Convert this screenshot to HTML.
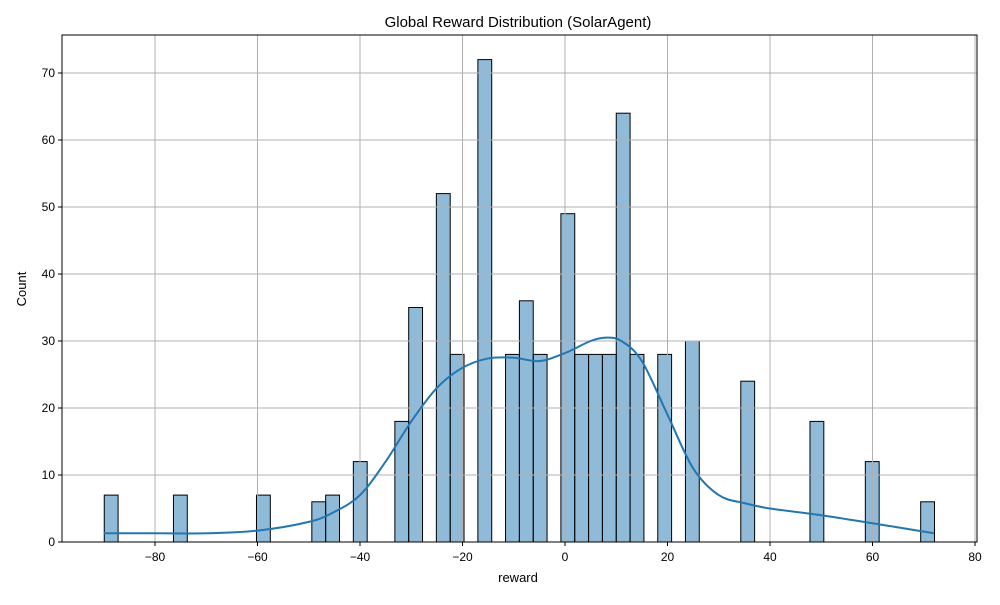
<!DOCTYPE html>
<html><head><meta charset="utf-8"><style>
body{margin:0;background:#fff;font-family:"Liberation Sans",sans-serif}
svg text{font-family:"Liberation Sans",sans-serif;fill:#000}
</style></head><body>
<svg id="chart" width="1000" height="600">
<rect width="1000" height="600" fill="#fff"/>
<text x="518" y="27" font-size="15" text-anchor="middle">Global Reward Distribution (SolarAgent)</text>
<g id="bars"></g><g id="grid"></g><g id="kde"></g><g id="axes"></g>
<text x="518" y="582" font-size="13" text-anchor="middle">reward</text>
<text x="26" y="289" font-size="13" text-anchor="middle" transform="rotate(-90 26 289)">Count</text>
</svg>
<script>
const binCenters=[-88.55,-75.05,-58.85,-48.05,-45.35,-39.95,-31.85,-29.15,-23.75,-21.05,-15.65,-10.25,-7.55,-4.85,0.55,3.25,5.95,8.65,11.35,14.05,19.45,24.85,35.65,49.15,59.95,70.75];
const counts=[7,7,7,6,7,12,18,35,52,28,72,28,36,28,49,28,28,28,64,28,28,30,24,18,12,6];
const binWidth=2.7;
const kdeX=[-90,-80,-70,-60,-50,-45,-40,-35,-30,-25,-20,-15,-10,-5,0,5,8,11,15,20,25,30,35,40,50,60,72];
const kdeY=[1.3,1.3,1.3,1.7,3,4.5,7,12,18,23,26,27.4,27.5,27,28.2,30,30.5,30,27,19,11,7,5.8,5,4,2.8,1.3];
const xTicks=[-80,-60,-40,-20,0,20,40,60,80];
const yTicks=[0,10,20,30,40,50,60,70];
const L=62,R=977,T=35,B=542;
const sx=v=>565+v*5.125, sy=v=>B-v*6.7;
const NS="http://www.w3.org/2000/svg";
function mk(p,t,a){const e=document.createElementNS(NS,t);for(const k in a)e.setAttribute(k,a[k]);p.appendChild(e);return e;}
const grid=document.getElementById('grid'),bars=document.getElementById('bars'),kde=document.getElementById('kde'),axes=document.getElementById('axes');
xTicks.forEach(v=>{const x=sx(v);
 const g=mk(grid,'line',{x1:x,x2:x,y1:T,y2:B,stroke:'#b0b0b0','stroke-width':1});
 
 
 mk(axes,'line',{x1:x,x2:x,y1:B,y2:B+4,stroke:'#000'});
 const t=mk(axes,'text',{x:x,y:B+19,'font-size':12,'text-anchor':'middle'});t.textContent=(v<0?'\u2212'+(-v):v);
 
 });
yTicks.forEach(v=>{const y=sy(v);
 const g=mk(grid,'line',{x1:L,x2:R,y1:y,y2:y,stroke:'#b0b0b0','stroke-width':1});
 
 
 mk(axes,'line',{x1:L-4,x2:L,y1:y,y2:y,stroke:'#000'});
 const t=mk(axes,'text',{x:L-7,y:y+4,'font-size':12,'text-anchor':'end'});t.textContent=v;
 
 });
binCenters.forEach((c,i)=>{const x0=sx(c-binWidth/2),x1=sx(c+binWidth/2);
 const r=mk(bars,'rect',{x:x0,y:sy(counts[i]),width:x1-x0,height:B-sy(counts[i]),fill:'rgba(31,119,180,0.5)',stroke:'#000','stroke-width':1});
 
 });
const pts=kdeX.map((x,i)=>[sx(x),sy(kdeY[i])]);
let d='M'+pts[0][0]+','+pts[0][1];
for(let i=0;i<pts.length-1;i++){const p0=pts[i-1]||pts[i],p1=pts[i],p2=pts[i+1],p3=pts[i+2]||p2;
 d+=` C${p1[0]+(p2[0]-p0[0])/6},${p1[1]+(p2[1]-p0[1])/6} ${p2[0]-(p3[0]-p1[0])/6},${p2[1]-(p3[1]-p1[1])/6} ${p2[0]},${p2[1]}`;}
const path=mk(kde,'path',{d:d,fill:'none',stroke:'#1f77b4','stroke-width':2});


const fr=mk(axes,'rect',{x:L,y:T,width:R-L,height:B-T,fill:'none',stroke:'#000','stroke-width':1});


</script>
</body></html>
